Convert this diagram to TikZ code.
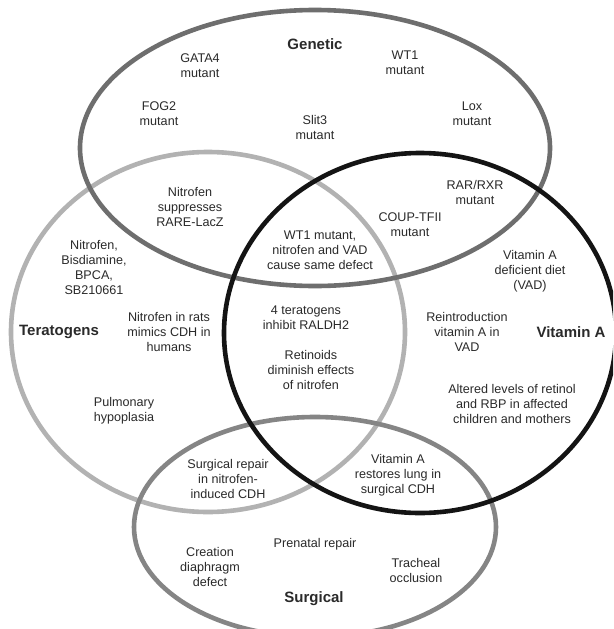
\documentclass[tikz,border=0pt]{standalone}
\usepackage{fontspec}
\setmainfont{Liberation Sans}
\definecolor{genclr}{HTML}{6E6E6E}
\definecolor{terclr}{HTML}{B2B2B2}
\definecolor{surclr}{HTML}{858585}
\definecolor{vitclr}{HTML}{141414}
\definecolor{inkclr}{HTML}{2A2A2A}
\begin{document}
\begin{tikzpicture}[x=1pt,y=-1pt,
  ring/.style={line width=4.6pt},
  txt/.style={align=center,font=\fontsize{12.6}{15}\selectfont,text=inkclr,inner sep=0pt},
  setname/.style={font=\fontsize{15}{18}\selectfont\bfseries,text=inkclr,inner sep=0pt}]
\useasboundingbox (0,0) rectangle (613,629);
\clip (0,0) rectangle (613,629);
\fill[white] (0,0) rectangle (613,629);

% the four sets
\draw[ring, terclr] (208,332) ellipse [x radius=197pt, y radius=180pt];
\draw[ring, genclr] (315,148) ellipse [x radius=235pt, y radius=138pt];
\draw[ring, surclr] (315,527) ellipse [x radius=181pt, y radius=110pt];
\draw[ring, vitclr] (420,333) ellipse [x radius=196pt, y radius=180pt];

% set names
\node[setname] (genetic) at (315,44) {Genetic};
\node[setname] (teratogens) at (59,332) {Teratogens};
\node[setname] (vitamina) at (571,332) {Vitamin A};
\node[setname] (surgical) at (314,599) {Surgical};

% genetic only
\node[txt] (gata4) at (200,66) {GATA4\\mutant};
\node[txt] (wt1) at (405,63) {WT1\\mutant};
\node[txt] (fog2) at (159,114) {FOG2\\mutant};
\node[txt] (slit3) at (315,127) {Slit3\\mutant};
\node[txt] (lox) at (472,114) {Lox\\mutant};

% genetic overlaps
\node[txt] (rare) at (190,207) {Nitrofen\\suppresses\\RARE-LacZ};
\node[txt] (rarrxr) at (475,192) {RAR/RXR\\mutant};
\node[txt] (coup) at (410,225) {COUP-TFII\\mutant};
\node[txt] (samedef) at (320,250) {WT1 mutant,\\nitrofen and VAD\\cause same defect};

% teratogens
\node[txt] (agents) at (94,267) {Nitrofen,\\Bisdiamine,\\BPCA,\\SB210661};
\node[txt] (rats) at (169,332) {Nitrofen in rats\\mimics CDH in\\humans};
\node[txt] (hypo) at (124,411) {Pulmonary\\hypoplasia};

% teratogens and vitamin A
\node[txt] (raldh) at (306,318) {4 teratogens\\inhibit RALDH2};
\node[txt] (retinoids) at (311,370) {Retinoids\\diminish effects\\of nitrofen};

% vitamin A
\node[txt] (vad) at (530,271) {Vitamin A\\deficient diet\\(VAD)};
\node[txt] (reintro) at (467,332) {Reintroduction\\vitamin A in\\VAD};
\node[txt] (altered) at (512,404) {Altered levels of retinol\\and RBP in affected\\children and mothers};

% surgical overlaps
\node[txt] (repair) at (228,479) {Surgical repair\\in nitrofen-\\induced CDH};
\node[txt] (restores) at (398,475) {Vitamin A\\restores lung in\\surgical CDH};

% surgical
\node[txt] (creation) at (210,567) {Creation\\diaphragm\\defect};
\node[txt] (prenatal) at (315,544) {Prenatal repair};
\node[txt] (tracheal) at (416,570) {Tracheal\\occlusion};
\end{tikzpicture}
\end{document}
